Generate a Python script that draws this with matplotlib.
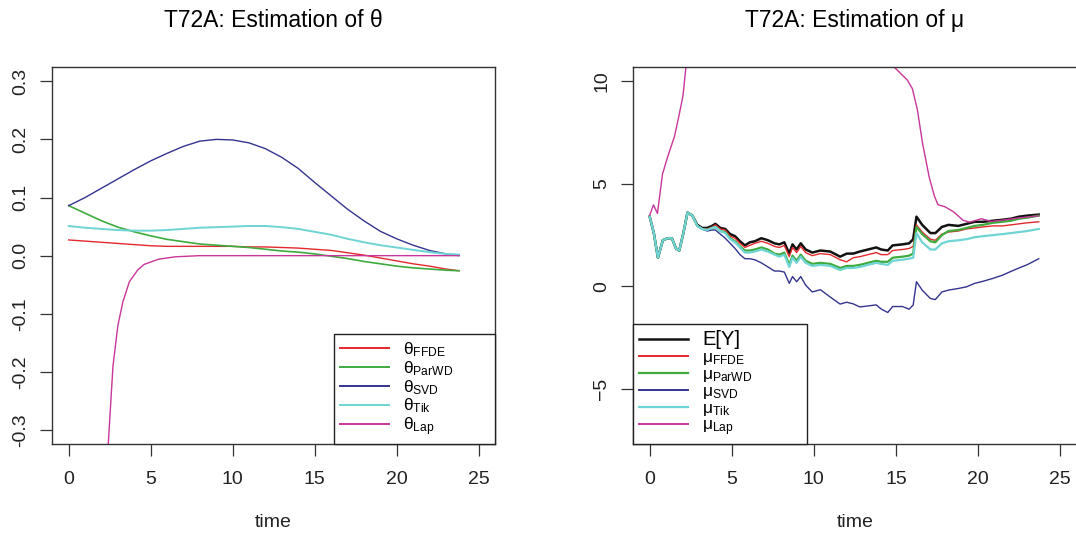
# T72A: Schaetzung von theta und mu, Nachbau der R-Grafik
import numpy as np
import matplotlib
matplotlib.use('Agg')
import matplotlib.pyplot as plt

plt.rcParams['font.family'] = ['Liberation Sans', 'DejaVu Sans']
plt.rcParams['mathtext.fontset'] = 'custom'
plt.rcParams['mathtext.rm'] = 'Liberation Sans'
plt.rcParams['mathtext.it'] = 'Liberation Sans'
plt.rcParams['mathtext.bf'] = 'Liberation Sans'

# ---- Daten linkes Panel (theta) ----
t_theta = [0, 1, 2, 3, 4, 5, 6, 7, 8, 9, 10, 11, 12, 13, 14, 15, 16, 17, 18,
           19, 20, 21, 22, 23, 23.8]
theta_ffde = [0.027, 0.025, 0.023, 0.021, 0.019, 0.017, 0.016, 0.016, 0.016,
              0.016, 0.016, 0.015, 0.015, 0.014, 0.013, 0.011, 0.009, 0.005,
              0.001, -0.004, -0.009, -0.014, -0.018, -0.023, -0.026]
theta_parwd = [0.086, 0.073, 0.060, 0.049, 0.041, 0.034, 0.028, 0.024, 0.020,
               0.018, 0.016, 0.014, 0.011, 0.008, 0.006, 0.003, -0.001, -0.005,
               -0.010, -0.014, -0.018, -0.021, -0.023, -0.025, -0.026]
theta_svd = [0.086, 0.100, 0.116, 0.132, 0.148, 0.163, 0.176, 0.188, 0.197,
             0.200, 0.199, 0.194, 0.184, 0.169, 0.150, 0.126, 0.103, 0.080,
             0.060, 0.042, 0.029, 0.018, 0.009, 0.003, 0.000]
theta_tik = [0.051, 0.048, 0.046, 0.044, 0.043, 0.043, 0.044, 0.046, 0.048,
             0.049, 0.050, 0.051, 0.051, 0.049, 0.046, 0.041, 0.036, 0.029,
             0.023, 0.018, 0.014, 0.010, 0.006, 0.003, 0.002]
t_theta_lap = [0, 1, 1.5, 2.0, 2.4, 2.7, 3.0, 3.3, 3.7, 4.2, 4.6, 5.5, 6.5, 8,
               10, 12, 14, 16, 18, 20, 22, 23.8]
theta_lap = [-3.0, -1.2, -0.75, -0.48, -0.33, -0.19, -0.12, -0.08, -0.045,
             -0.025, -0.015, -0.006, -0.002, 0, 0, 0, 0, 0, 0, 0, 0, 0]

# ---- Daten rechtes Panel (mu) ----
t_mu = [0, 0.25, 0.5, 0.8, 1.1, 1.35, 1.6, 1.8, 2.05, 2.3,
        2.6, 2.9, 3.2, 3.5, 3.8, 4.0, 4.3, 4.6, 4.9, 5.2,
        5.5, 5.8, 6.1, 6.4, 6.8, 7.2, 7.6, 7.9, 8.2, 8.5,
        8.7, 8.95, 9.2, 9.5, 9.9, 10.4, 11.0, 11.6, 12.0, 12.4,
        12.8, 13.3, 13.8, 14.1, 14.5, 14.8, 15.4, 15.8, 16.05, 16.25,
        16.6, 17.1, 17.4, 17.8, 18.2, 18.8, 19.3, 19.8, 20.3, 20.9,
        21.5, 22.0, 22.5, 23.0, 23.7]
mu_ey = [3.40, 2.60, 1.40, 2.25, 2.35, 2.35, 1.85, 1.75, 2.60, 3.60,
         3.45, 3.00, 2.85, 2.85, 2.95, 3.05, 2.85, 2.80, 2.55, 2.45,
         2.20, 2.00, 2.15, 2.20, 2.35, 2.25, 2.10, 2.05, 2.15, 1.60,
         2.05, 1.80, 2.10, 1.80, 1.65, 1.75, 1.70, 1.45, 1.60, 1.60,
         1.70, 1.80, 1.90, 1.80, 1.75, 2.00, 2.05, 2.10, 2.30, 3.40,
         3.00, 2.60, 2.60, 2.90, 3.00, 2.95, 3.05, 3.15, 3.15, 3.20,
         3.25, 3.30, 3.40, 3.45, 3.50]
mu_ffde = [3.40, 2.60, 1.40, 2.25, 2.35, 2.35, 1.85, 1.75, 2.60, 3.60,
           3.45, 2.95, 2.80, 2.80, 2.90, 3.00, 2.80, 2.75, 2.45, 2.35,
           2.10, 1.90, 2.00, 2.10, 2.20, 2.10, 1.95, 1.90, 2.00, 1.45,
           1.90, 1.65, 1.95, 1.65, 1.50, 1.60, 1.55, 1.30, 1.20, 1.40,
           1.45, 1.55, 1.65, 1.55, 1.55, 1.75, 1.80, 1.85, 1.95, 3.00,
           2.65, 2.30, 2.25, 2.55, 2.65, 2.70, 2.80, 2.85, 2.90, 2.95,
           2.95, 3.00, 3.05, 3.10, 3.15]
mu_parwd = [3.40, 2.60, 1.40, 2.25, 2.35, 2.35, 1.85, 1.75, 2.60, 3.60,
            3.45, 2.95, 2.80, 2.75, 2.85, 2.90, 2.70, 2.65, 2.35, 2.20,
            1.95, 1.75, 1.75, 1.80, 1.90, 1.80, 1.60, 1.55, 1.65, 1.05,
            1.50, 1.25, 1.55, 1.25, 1.10, 1.15, 1.10, 0.90, 1.00, 1.00,
            1.05, 1.15, 1.25, 1.20, 1.20, 1.40, 1.45, 1.50, 1.60, 2.90,
            2.55, 2.20, 2.15, 2.50, 2.70, 2.75, 2.85, 2.95, 3.00, 3.10,
            3.15, 3.20, 3.30, 3.35, 3.45]
mu_svd = [3.40, 2.60, 1.40, 2.25, 2.35, 2.35, 1.85, 1.75, 2.60, 3.60,
          3.45, 2.95, 2.80, 2.70, 2.75, 2.75, 2.55, 2.35, 2.10, 1.85,
          1.55, 1.35, 1.35, 1.30, 1.15, 0.95, 0.75, 0.75, 0.70, 0.15,
          0.48, 0.23, 0.48, 0.06, -0.27, -0.16, -0.52, -0.86, -0.77, -0.85,
          -1.00, -0.95, -0.90, -1.10, -1.27, -0.98, -0.98, -1.11, -0.91, 0.23,
          -0.18, -0.59, -0.64, -0.27, -0.18, -0.10, -0.02, 0.15, 0.25, 0.39,
          0.55, 0.73, 0.90, 1.06, 1.35]
mu_tik = [3.40, 2.60, 1.40, 2.25, 2.35, 2.35, 1.85, 1.75, 2.60, 3.60,
          3.45, 2.95, 2.80, 2.75, 2.85, 2.90, 2.70, 2.60, 2.30, 2.15,
          1.90, 1.65, 1.65, 1.70, 1.80, 1.70, 1.55, 1.45, 1.55, 0.95,
          1.40, 1.15, 1.45, 1.15, 1.00, 1.05, 1.00, 0.80, 0.90, 0.90,
          0.95, 1.05, 1.15, 1.10, 1.05, 1.25, 1.30, 1.35, 1.40, 2.60,
          2.15, 1.80, 1.80, 2.10, 2.20, 2.25, 2.30, 2.40, 2.45, 2.50,
          2.55, 2.60, 2.65, 2.70, 2.80]
t_mu_lap = [0, 0.23, 0.47, 0.78, 1.09, 1.51, 1.82, 2.03, 2.2, 2.5, 5, 10, 14.0,
            14.96, 15.69, 16.0, 16.3, 16.62, 17.03, 17.35, 17.56, 17.97, 18.5,
            19.1, 19.5, 20.2, 20.8, 21.4, 22.5, 23.7]
mu_lap = [3.48, 3.97, 3.56, 5.48, 6.31, 7.31, 8.47, 9.31, 10.64, 12.5, 18, 18,
          11.5, 10.64, 10.06, 9.64, 8.64, 6.98, 5.31, 4.39, 3.98, 3.89, 3.64,
          3.22, 3.13, 3.30, 3.17, 3.22, 3.34, 3.44]

# Farben
c_red, c_green, c_blue = '#E3282E', '#3EAB3E', '#34348F'
c_cyan, c_mag, c_blk = '#6ED4D4', '#C8359B', '#111111'

W, H = 1076, 533
fig = plt.figure(figsize=(W / 100, H / 100), dpi=100)
# Plotbereiche in Pixeln (wie im Original), rechter Rahmen liegt am Bildrand
L1, R1 = 52.3, 495.0
L2, R2 = 633.3, 1076.5
TOP, BOT = 67.3, 444.0
ax1 = fig.add_axes([L1 / W, 1 - BOT / H, (R1 - L1) / W, (BOT - TOP) / H])
ax2 = fig.add_axes([L2 / W, 1 - BOT / H, (R2 - L2) / W, (BOT - TOP) / H])

fs = 14


def style(ax):
    for s in ax.spines.values():
        s.set_color('#333333')
        s.set_linewidth(1.0)
    ax.tick_params(axis='both', direction='out', length=8.5, width=0.9,
                   color='#333333', labelsize=fs, labelcolor='#222222')
    ax.tick_params(axis='x', pad=11)
    ax.tick_params(axis='y', pad=8)
    for lab in ax.get_yticklabels():
        lab.set_rotation(90)
        lab.set_va('center')
    ax.set_xlabel('time', fontsize=fs, labelpad=19, color='#222222')


# linkes Panel
ax1.plot(t_theta, theta_ffde, color=c_red, lw=1.0, label=r'$\theta_{\mathrm{FFDE}}$')
ax1.plot(t_theta, theta_parwd, color=c_green, lw=1.2, label=r'$\theta_{\mathrm{ParWD}}$')
ax1.plot(t_theta, theta_svd, color=c_blue, lw=1.0, label=r'$\theta_{\mathrm{SVD}}$')
ax1.plot(t_theta, theta_tik, color=c_cyan, lw=1.4, label=r'$\theta_{\mathrm{Tik}}$')
ax1.plot(t_theta_lap, theta_lap, color=c_mag, lw=1.0, label=r'$\theta_{\mathrm{Lap}}$')
ax1.set_xlim(-1, 26)
ax1.set_ylim(-0.324, 0.324)
ax1.set_xticks([0, 5, 10, 15, 20, 25])
ax1.set_yticks([-0.3, -0.2, -0.1, 0.0, 0.1, 0.2, 0.3])
ax1.set_yticklabels(['-0.3', '-0.2', '-0.1', '0.0', '0.1', '0.2', '0.3'])
style(ax1)
ax1.set_title('T72A: Estimation of θ', fontsize=16.5, pad=29)

# rechtes Panel
ax2.plot(t_mu, mu_ey, color=c_blk, lw=1.8, label='E[Y]')
ax2.plot(t_mu, mu_ffde, color=c_red, lw=1.0, label=r'$\mu_{\mathrm{FFDE}}$')
ax2.plot(t_mu, mu_parwd, color=c_green, lw=1.6, label=r'$\mu_{\mathrm{ParWD}}$')
ax2.plot(t_mu, mu_svd, color=c_blue, lw=1.0, label=r'$\mu_{\mathrm{SVD}}$')
ax2.plot(t_mu, mu_tik, color=c_cyan, lw=1.6, label=r'$\mu_{\mathrm{Tik}}$')
ax2.plot(t_mu_lap, mu_lap, color=c_mag, lw=1.0, label=r'$\mu_{\mathrm{Lap}}$')
ax2.set_xlim(-1, 26)
ax2.set_ylim(-7.68, 10.68)
ax2.set_xticks([0, 5, 10, 15, 20, 25])
ax2.set_yticks([-5, 0, 5, 10])
style(ax2)
ax2.set_title('T72A: Estimation of μ', fontsize=16.5, pad=29)

leg_kw = dict(fontsize=12.5, frameon=True, fancybox=False, framealpha=1,
              edgecolor='#222222', borderaxespad=0, borderpad=0.35,
              labelspacing=0.0, handlelength=2.8, handletextpad=0.8,
              loc='lower left', mode='expand')
# Legendenrahmen: links 334..495 px, rechts 634..807 px
l1 = ax1.legend(bbox_to_anchor=((334 - L1) / (R1 - L1), 0, (R1 - 334) / (R1 - L1), 0.3),
                **leg_kw)
l2 = ax2.legend(bbox_to_anchor=(0, 0, (807 - L2) / (R2 - L2), 0.3), **leg_kw)
l2.get_texts()[0].set_fontsize(14.5)
for lg in (l1, l2):
    lg.get_frame().set_linewidth(1.0)
    # Legendenlinien etwas kraeftiger als im Plot
    for h in lg.legend_handles:
        h.set_linewidth(max(h.get_linewidth(), 1.4))

fig.savefig('out.png', dpi=100)
